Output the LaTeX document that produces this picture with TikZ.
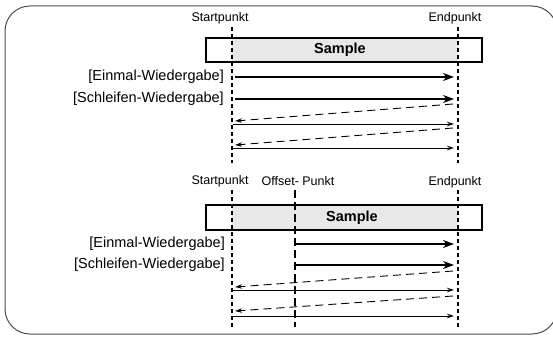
\documentclass[tikz,border=0pt]{standalone}
\usepackage{fontspec}
\setmainfont{Liberation Sans}
\usetikzlibrary{arrows.meta}

\begin{document}
\begin{tikzpicture}[x=1pt,y=-1pt,
every node/.style={inner sep=0pt},
pointlabel/.style={font=\fontsize{12.5}{14}\selectfont},
rowlabel/.style={anchor=east,font=\fontsize{14.5}{17}\selectfont},
sampletext/.style={font=\fontsize{14.5}{17}\selectfont\bfseries},
marker/.style={line width=1.4pt,dash pattern=on 4pt off 3pt},
offsetmarker/.style={line width=1.4pt,dash pattern=on 8pt off 4pt},
boxline/.style={draw,line width=2pt},
playthick/.style={line width=2pt,-{Stealth[length=11pt,width=8pt]}},
playthin/.style={line width=0.9pt,-{Stealth[length=7pt,width=4.5pt]}},
jumpback/.style={line width=0.9pt,dash pattern=on 8pt off 5pt,-{Stealth[length=7pt,width=4.5pt]}}]

\clip (0,0) rectangle (553,337);
\draw[gray!60!black,line width=1pt,rounded corners=25pt] (5,6) rectangle (557,334);

% upper part
\node[pointlabel] (start1) at (220,18) {Startpunkt};
\node[pointlabel] (end1) at (455,18) {Endpunkt};
\coordinate (s1top) at (232,27);
\coordinate (s1bot) at (232,163);
\coordinate (e1top) at (458,27);
\coordinate (e1bot) at (458,163);

\fill[gray!18] (232,38) rectangle (458,62);
\draw[marker] (s1top) -- (s1bot);
\draw[marker] (e1top) -- (e1bot);
\draw[boxline] (206,38) rectangle (482,62);
\node[sampletext] (smp1) at (340,50) {Sample};

\node[rowlabel] (once1) at (224,77) {[Einmal-Wiedergabe]};
\node[rowlabel] (loop1) at (224,99) {[Schleifen-Wiedergabe]};

\coordinate (o1a) at (235,77);  \coordinate (o1b) at (454,77);
\coordinate (l1a) at (235,99);  \coordinate (l1b) at (454,99);
\coordinate (r1a) at (453,104); \coordinate (r1b) at (235,121);
\coordinate (p1a) at (233,124); \coordinate (p1b) at (454,124);
\coordinate (r2a) at (453,128); \coordinate (r2b) at (235,145);
\coordinate (p2a) at (233,148); \coordinate (p2b) at (454,148);

\draw[playthick] (o1a) -- (o1b);
\draw[playthick] (l1a) -- (l1b);
\draw[jumpback] (r1a) -- (r1b);
\draw[playthin] (p1a) -- (p1b);
\draw[jumpback] (r2a) -- (r2b);
\draw[playthin] (p2a) -- (p2b);

% lower part
\node[pointlabel] (start2) at (220,181) {Startpunkt};
\node[pointlabel] (offs2) at (298,181) {Offset- Punkt};
\node[pointlabel] (end2) at (455,182) {Endpunkt};
\coordinate (s2top) at (232,190);
\coordinate (s2bot) at (232,328);
\coordinate (f2top) at (295,190);
\coordinate (f2bot) at (295,327);
\coordinate (e2top) at (458,190);
\coordinate (e2bot) at (458,327);

\fill[gray!18] (232,205) rectangle (458,230);
\draw[marker] (s2top) -- (s2bot);
\draw[offsetmarker] (f2top) -- (f2bot);
\draw[marker] (e2top) -- (e2bot);
\draw[boxline] (206,205) rectangle (482,230);
\node[sampletext] (smp2) at (352,218) {Sample};

\node[rowlabel] (once2) at (225,244) {[Einmal-Wiedergabe]};
\node[rowlabel] (loop2) at (225,265) {[Schleifen-Wiedergabe]};

\coordinate (o2a) at (296,244); \coordinate (o2b) at (454,244);
\coordinate (l2a) at (296,265); \coordinate (l2b) at (454,265);
\coordinate (r3a) at (453,271); \coordinate (r3b) at (235,287);
\coordinate (p3a) at (233,290); \coordinate (p3b) at (454,290);
\coordinate (r4a) at (453,296); \coordinate (r4b) at (235,311);
\coordinate (p4a) at (233,316); \coordinate (p4b) at (454,316);

\draw[playthick] (o2a) -- (o2b);
\draw[playthick] (l2a) -- (l2b);
\draw[jumpback] (r3a) -- (r3b);
\draw[playthin] (p3a) -- (p3b);
\draw[jumpback] (r4a) -- (r4b);
\draw[playthin] (p4a) -- (p4b);

\end{tikzpicture}
\end{document}
